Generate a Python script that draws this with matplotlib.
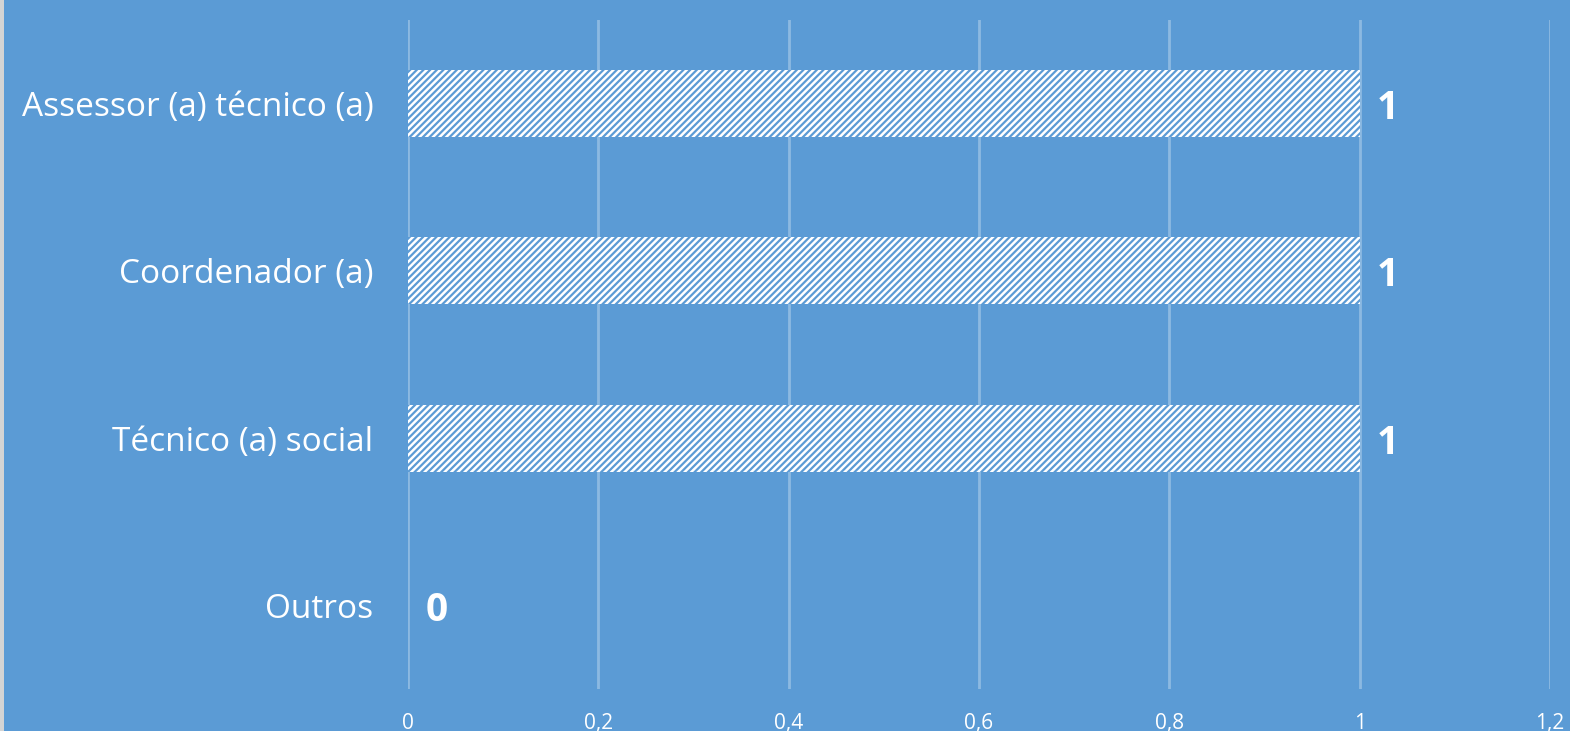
import matplotlib.pyplot as plt
from matplotlib.patches import Rectangle

plt.rcParams['font.family'] = ['Open Sans', 'DejaVu Sans']
plt.rcParams['hatch.linewidth'] = 1.6

categorias = ['Outros', 'Técnico (a) social', 'Coordenador (a)', 'Assessor (a) técnico (a)']
valores = [0, 1, 1, 1]
ticks = [0, 0.2, 0.4, 0.6, 0.8, 1, 1.2]
tick_labels = ['0', '0,2', '0,4', '0,6', '0,8', '1', '1,2']

azul = '#5B9BD5'

fig = plt.figure(figsize=(15.7, 7.31), dpi=100, facecolor=azul)
ax = fig.add_axes([0.2599, 0.0575, 0.7274, 0.9151])
ax.set_facecolor(azul)

ypos = range(len(categorias))
bars = ax.barh(ypos, valores, height=0.4, color='white', edgecolor=azul,
               linewidth=0, hatch='/////', zorder=3)

for y, v in zip(ypos, valores):
    ax.text(v + 0.018, y - 0.03, str(v), color='white', fontsize=28, fontweight='bold',
            va='center', ha='left', zorder=4)

ax.set_xlim(0, 1.2)
ax.set_ylim(-0.5, 3.5)
ax.set_xticks(ticks)
ax.set_xticklabels(tick_labels)
ax.set_yticks(list(ypos))
ax.set_yticklabels(categorias)
ax.tick_params(axis='x', length=0, pad=17, labelsize=15, colors='white')
ax.tick_params(axis='y', length=0, pad=25, labelsize=24, colors='white')
ax.grid(axis='x', color='white', alpha=0.3, linewidth=2, zorder=1)
for s in ax.spines.values():
    s.set_visible(False)

# borda cinza à esquerda
fig.patches.append(Rectangle((0, 0), 4 / 1570, 1, transform=fig.transFigure,
                             facecolor='#D4D4D4', edgecolor='none'))

fig.savefig('out.png', dpi=100, facecolor=azul)
